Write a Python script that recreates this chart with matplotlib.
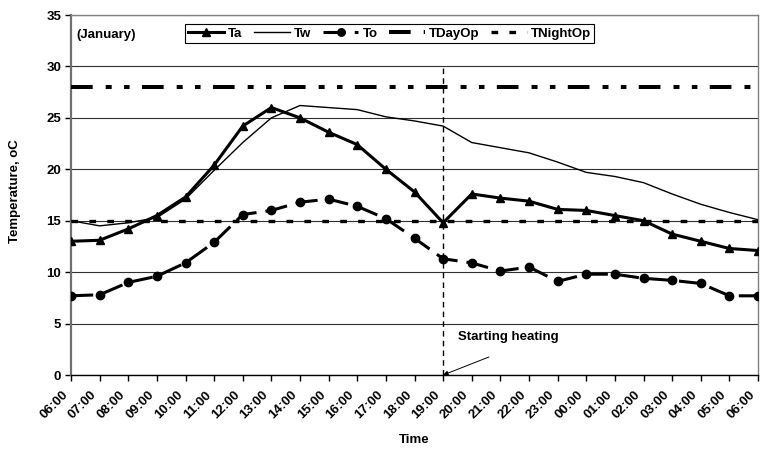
import numpy as np
import matplotlib
matplotlib.use('Agg')
import matplotlib.pyplot as plt
import matplotlib.transforms as mtransforms

plt.rcParams['font.family'] = ['Liberation Sans', 'DejaVu Sans']
plt.rcParams['font.weight'] = 'bold'
plt.rcParams['axes.labelweight'] = 'bold'
plt.rcParams['font.size'] = 9.5
plt.rcParams['lines.scale_dashes'] = False

# hourly readings, 06:00 to 06:00 next day
hours = ['06:00', '07:00', '08:00', '09:00', '10:00', '11:00', '12:00', '13:00',
         '14:00', '15:00', '16:00', '17:00', '18:00', '19:00', '20:00', '21:00',
         '22:00', '23:00', '00:00', '01:00', '02:00', '03:00', '04:00', '05:00', '06:00']
ta = [13.0, 13.1, 14.2, 15.5, 17.3, 20.4, 24.2, 26.0, 25.0, 23.6, 22.4, 20.0, 17.8,
      14.8, 17.6, 17.2, 16.9, 16.1, 16.0, 15.5, 15.0, 13.7, 13.0, 12.3, 12.1]
tw = [15.0, 14.5, 14.8, 15.3, 17.1, 19.9, 22.6, 25.0, 26.2, 26.0, 25.8, 25.1, 24.7,
      24.2, 22.6, 22.1, 21.6, 20.7, 19.7, 19.3, 18.7, 17.6, 16.6, 15.8, 15.1]
to = [7.7, 7.8, 9.0, 9.6, 10.9, 12.9, 15.6, 16.0, 16.8, 17.1, 16.4, 15.2, 13.3,
      11.3, 10.9, 10.1, 10.5, 9.1, 9.8, 9.8, 9.4, 9.2, 8.9, 7.7, 7.7]
t_day_op = [28.0] * len(hours)
t_night_op = [15.0] * len(hours)
heating_start = '19:00'

x = np.arange(len(hours))

fig = plt.figure(figsize=(7.6, 4.53), dpi=100)
ax = fig.add_axes([71 / 760, 1 - 375 / 453, 687 / 760, 360 / 453])

ax.plot(x, t_day_op, color='black', lw=2.9, dashes=(15.6, 9.4, 4.3, 8.9, 4.0, 8.9),
        label='TDayOp', zorder=3)
ax.plot(x, t_night_op, color='black', lw=2.4, dashes=(4.8, 8.1), label='TNightOp', zorder=3)
ax.plot(x, ta, color='black', lw=2.2, marker='^', ms=6, label='Ta', zorder=4)
ax.plot(x, tw, color='black', lw=1.0, label='Tw', zorder=4)
ax.plot(x, to, color='black', lw=2.2, marker='o', ms=6, dashes=(16, 6.5), label='To', zorder=4)

# vertical marker where heating starts
xh = hours.index(heating_start, 10)
ax.plot([xh, xh], [0, 30], color='black', lw=1.0, dashes=(4, 3), zorder=3)
ax.text(xh + 0.52, 3.7, 'Starting heating', va='center')
ax.annotate('', xy=(xh, 0), xytext=(xh + 1.6, 1.75), annotation_clip=False,
            arrowprops=dict(arrowstyle='-|>', color='black', lw=0.7,
                            mutation_scale=7, shrinkA=0, shrinkB=0))
ax.text(0.2, 33.1, '(January)', va='center')

ax.set_xlim(0, len(hours) - 1)
ax.set_ylim(0, 35)
ax.set_yticks(np.arange(0, 36, 5))
ax.set_xticks(x)
ax.set_xticklabels(hours, rotation=45, ha='right', va='center', rotation_mode='anchor')
ax.tick_params(axis='x', length=4, width=1, pad=9)
ax.tick_params(axis='y', length=4, width=1, pad=3)
shift = mtransforms.ScaledTranslation(-5 / 100, 0, fig.dpi_scale_trans)
for lbl in ax.get_xticklabels():
    lbl.set_transform(lbl.get_transform() + shift)
ax.yaxis.grid(True, color='#303030', lw=0.8)
ax.set_axisbelow(True)

for side in ['top', 'right']:
    ax.spines[side].set_color('#808080')
    ax.spines[side].set_linewidth(1.0)
ax.spines['left'].set_color('#707070')
ax.spines['left'].set_linewidth(1.6)
ax.spines['bottom'].set_color('black')
ax.spines['bottom'].set_linewidth(1.0)

ax.set_xlabel('Time', fontweight='bold')
ax.set_ylabel('Temperature, oC', fontweight='bold')
ax.xaxis.set_label_coords(0.5, (375 - 434) / 360)
ax.yaxis.set_label_coords((21 - 71) / 687, 0.51)

handles, labels = ax.get_legend_handles_labels()
order = [labels.index(n) for n in ['Ta', 'Tw', 'To', 'TDayOp', 'TNightOp']]
leg = ax.legend([handles[i] for i in order], [labels[i] for i in order],
                ncol=5, loc='upper left', bbox_to_anchor=(185 / 760, 1 - 24 / 453),
                bbox_transform=fig.transFigure, frameon=True, fancybox=False,
                edgecolor='black', framealpha=1, handlelength=2.7, handletextpad=0.3,
                columnspacing=0.9, borderpad=0.25, borderaxespad=0, markerscale=0.9)
leg.get_frame().set_linewidth(0.8)

fig.savefig('out.png', dpi=100)
